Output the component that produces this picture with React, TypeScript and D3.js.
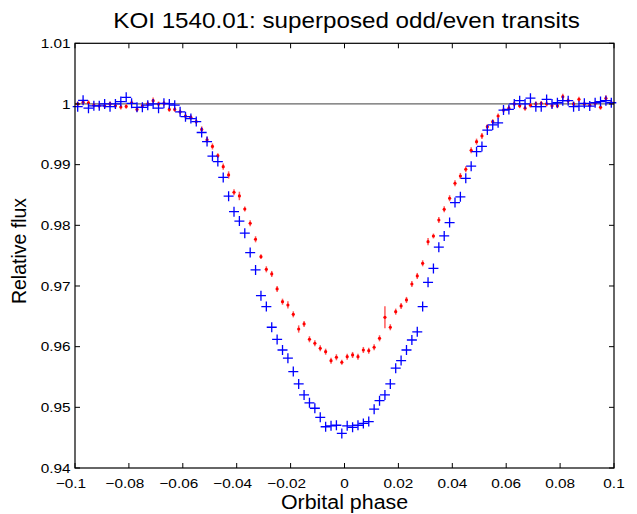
import * as React from "react";
import * as d3 from "d3";

// phase bins: centre of first bin and bin width
const phaseStart = -0.099;
const phaseStep = 0.002;

// even transits (blue crosses)
const evenFlux = [
  0.99956, 1.0006, 0.9993, 0.9997, 0.9997, 1.0, 0.99956, 1.0, 1.0004, 1.0011,
  1.0001, 0.99945, 0.99945, 0.9998, 1.0, 0.9993, 1.0001, 1.0, 0.9998, 0.9987,
  0.9979, 0.9976, 0.9971, 0.9953, 0.9938, 0.9914, 0.9905, 0.9879, 0.9848, 0.98225,
  0.9807, 0.9787, 0.9755, 0.97265, 0.9684, 0.9666, 0.9632, 0.9612, 0.95945, 0.9581,
  0.9559, 0.95385, 0.95205, 0.95075, 0.94985, 0.94835, 0.9468, 0.94695, 0.94705, 0.9457,
  0.94695, 0.9467, 0.94705, 0.94735, 0.94765, 0.9497, 0.9511, 0.95205, 0.95385, 0.95645,
  0.9577, 0.95945, 0.9611, 0.96245, 0.9666, 0.9706, 0.9729, 0.9764, 0.97825, 0.98045,
  0.98375, 0.9847, 0.98775, 0.98975, 0.99214, 0.993, 0.9957, 0.99655, 0.9969, 0.999,
  0.9991, 1.0, 1.00055, 1.0, 1.00095, 0.99955, 0.99955, 1.00075, 1.0, 1.0002,
  1.00055, 1.00055, 0.99955, 0.99965, 1.0001, 0.99965, 1.0002, 1.0004, 1.00055, 1.0002,
];

// odd transits (red dots with error bars)
const oddFlux = [
  1.0, 1.0003, 1.0002, 0.9998, 0.9997, 0.9997, 1.0, 0.9997, 0.9995, 0.9996,
  1.0002, 0.9991, 0.9997, 1.0, 1.00055, 1.0, 1.0001, 0.9991, 0.9991, 0.9987,
  0.998, 0.9978, 0.9971, 0.9958, 0.9941, 0.993, 0.99148, 0.98967, 0.9883, 0.98545,
  0.98484, 0.98269, 0.98034, 0.9777, 0.97483, 0.97275, 0.97198, 0.96951, 0.96741, 0.96687,
  0.96533, 0.96291, 0.96374, 0.96122, 0.96056, 0.95973, 0.95917, 0.95769, 0.95825, 0.95743,
  0.95835, 0.95863, 0.95835, 0.95945, 0.95934, 0.9599, 0.96138, 0.96484, 0.9632, 0.96577,
  0.96671, 0.9677, 0.97033, 0.97165, 0.97374, 0.9773, 0.97824, 0.98088, 0.98264, 0.98446,
  0.98693, 0.98813, 0.98924, 0.99236, 0.99379, 0.99473, 0.99626, 0.99709, 0.99802, 0.999,
  0.9993, 1.0, 0.9997, 0.9993, 0.9998, 1.0, 1.0001, 1.0, 0.9997, 0.9997,
  1.0012, 1.00055, 1.0, 1.00077, 1.0, 0.9998, 1.0001, 0.99945, 1.00093, 1.0002,
];

const oddErr = [
  0.0004, 0.0004, 0.0004, 0.0004, 0.0004, 0.0004, 0.0004, 0.0004, 0.0004, 0.0004,
  0.0004, 0.0004, 0.0004, 0.0004, 0.0005, 0.0004, 0.0004, 0.0004, 0.0004, 0.0004,
  0.0004, 0.0004, 0.0004, 0.0005, 0.0005, 0.0005, 0.0004, 0.0005, 0.0006, 0.0005,
  0.0007, 0.0004, 0.0005, 0.0005, 0.0004, 0.0005, 0.0005, 0.0005, 0.0005, 0.0006,
  0.0005, 0.0006, 0.0005, 0.0005, 0.0005, 0.0005, 0.0005, 0.0005, 0.0005, 0.0004,
  0.0005, 0.0005, 0.0005, 0.0005, 0.0005, 0.0005, 0.0005, 0.0018, 0.0005, 0.0005,
  0.0005, 0.0005, 0.0005, 0.0005, 0.0005, 0.0006, 0.0004, 0.0005, 0.0005, 0.0005,
  0.0005, 0.0005, 0.0005, 0.0005, 0.0005, 0.0005, 0.0004, 0.0004, 0.0004, 0.0004,
  0.0004, 0.0004, 0.0004, 0.0004, 0.0004, 0.0004, 0.0004, 0.0004, 0.0004, 0.0004,
  0.0005, 0.0004, 0.0004, 0.0004, 0.0004, 0.0004, 0.0004, 0.0004, 0.0005, 0.0004,
];

const xTicks = [-0.1, -0.08, -0.06, -0.04, -0.02, 0, 0.02, 0.04, 0.06, 0.08, 0.1];
const yTicks = [0.94, 0.95, 0.96, 0.97, 0.98, 0.99, 1, 1.01];

const W = 637;
const H = 514;
const FONT = "'Liberation Sans', Arial, Helvetica, sans-serif";

export default function App() {
  const ref = React.useRef<SVGSVGElement | null>(null);

  React.useEffect(() => {
    const svg = d3.select(ref.current);
    svg.selectAll("*").remove();

    const left = 75,
      right = 614,
      top = 43.3,
      bottom = 468;
    const x = d3.scaleLinear([-0.1, 0.1], [left, right]);
    const y = d3.scaleLinear([0.94, 1.01], [bottom, top]);
    const phase = (i: number) => phaseStart + i * phaseStep;

    svg.append("rect").attr("width", W).attr("height", H).attr("fill", "white");

    // reference line at flux = 1
    svg
      .append("line")
      .attr("x1", left)
      .attr("x2", right)
      .attr("y1", y(1))
      .attr("y2", y(1))
      .attr("stroke", "#666")
      .attr("stroke-width", 1.2);

    // odd transits: error bars + dots
    const odd = svg.append("g");
    odd
      .selectAll("line")
      .data(oddFlux)
      .enter()
      .append("line")
      .attr("x1", (d, i) => x(phase(i)))
      .attr("x2", (d, i) => x(phase(i)))
      .attr("y1", (d, i) => y(d - oddErr[i]))
      .attr("y2", (d, i) => y(d + oddErr[i]))
      .attr("stroke", "#ff5a5a")
      .attr("stroke-width", 1.5);
    odd
      .selectAll("circle")
      .data(oddFlux)
      .enter()
      .append("circle")
      .attr("cx", (d, i) => x(phase(i)))
      .attr("cy", (d) => y(d))
      .attr("r", 1.6)
      .attr("fill", "#ff0000");

    // even transits: plus markers
    const arm = 5;
    svg
      .append("g")
      .selectAll("path")
      .data(evenFlux)
      .enter()
      .append("path")
      .attr("d", (d, i) => {
        const cx = x(phase(i));
        const cy = y(d);
        return `M${cx - arm},${cy}H${cx + arm}M${cx},${cy - arm}V${cy + arm}`;
      })
      .attr("stroke", "#0000ff")
      .attr("stroke-width", 1.3)
      .attr("fill", "none");

    // axes box, ticks inward on all sides
    const tickLen = 5;
    const axes = svg.append("g").attr("stroke", "black").attr("stroke-width", 1);
    xTicks.forEach((t) => {
      axes.append("line").attr("x1", x(t)).attr("x2", x(t)).attr("y1", bottom).attr("y2", bottom - tickLen);
      axes.append("line").attr("x1", x(t)).attr("x2", x(t)).attr("y1", top).attr("y2", top + tickLen);
    });
    yTicks.forEach((t) => {
      axes.append("line").attr("x1", left).attr("x2", left + tickLen).attr("y1", y(t)).attr("y2", y(t));
      axes.append("line").attr("x1", right).attr("x2", right - tickLen).attr("y1", y(t)).attr("y2", y(t));
    });
    svg
      .append("rect")
      .attr("x", left)
      .attr("y", top)
      .attr("width", right - left)
      .attr("height", bottom - top)
      .attr("fill", "none")
      .attr("stroke", "black")
      .attr("stroke-width", 1.2);

    // the original font runs a little wider than Liberation Sans, so stretch x
    const label = (
      tx: number,
      ty: number,
      txt: string,
      size: number,
      sx: number,
      anchor = "middle",
      rot = 0
    ) =>
      svg
        .append("text")
        .attr("transform", `translate(${tx},${ty}) rotate(${rot}) scale(${sx},1)`)
        .attr("text-anchor", anchor)
        .attr("font-family", FONT)
        .attr("font-size", size)
        .text(txt);

    const fmt = (t: number) => (t < 0 ? "\u2212" + String(-t) : String(t));
    xTicks.forEach((t) => label(x(t) - (t < 0 ? 4 : 0), 487.5, fmt(t), 13, 1.18));
    yTicks.forEach((t) => label(70.5, y(t) + 4.7, String(t), 13, 1.18, "end"));

    label(346.5, 27.5, "KOI 1540.01: superposed odd/even transits", 22, 1.1);
    label(344.5, 509, "Orbital phase", 20, 1.07);
    label(25.5, 251, "Relative flux", 19.5, 1, "middle", -90);
  }, []);

  return (
    <svg
      ref={ref}
      width={W}
      height={H}
      style={{ position: "absolute", left: 0, top: 0, display: "block" }}
    />
  );
}
